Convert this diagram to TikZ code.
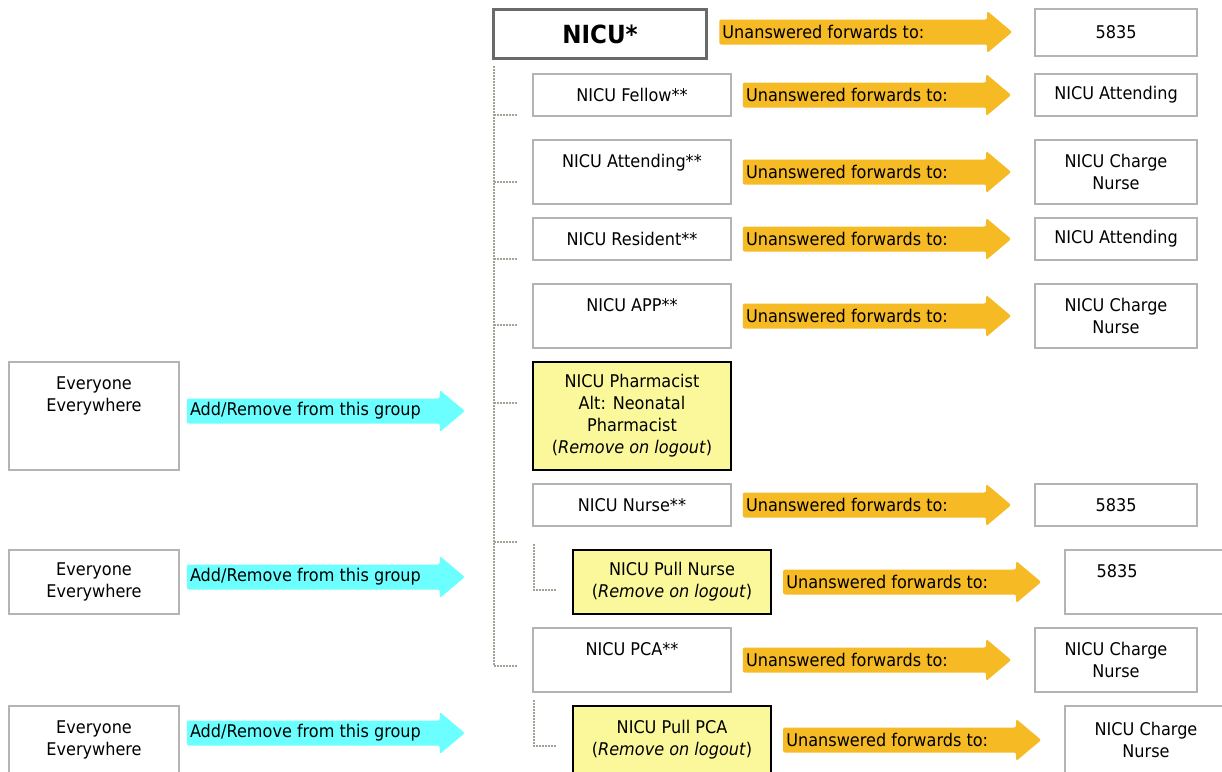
\documentclass[tikz,border=0pt]{standalone}
\usepackage{fontspec}
\setmainfont[FakeStretch=0.92]{DejaVu Sans}
\usetikzlibrary{
	calc,
	positioning
}

\definecolor{fwdorange}{HTML}{F5BA24}
\definecolor{addcyan}{HTML}{6CFFFF}
\definecolor{tempyellow}{HTML}{FAF89A}
\definecolor{boxgray}{HTML}{B4B4B4}
\definecolor{dotgray}{HTML}{A2A296}
\definecolor{headgray}{HTML}{6A6A6A}

\tikzset{
	txt/.style={font=\fontsize{17.5}{22}\selectfont},
	grpbox/.style={txt, draw=boxgray, line width=1.6pt, fill=white, align=center,
		inner sep=0pt, minimum width=198pt, minimum height=42pt},
	tempbox/.style={grpbox, draw=black, line width=2.2pt, fill=tempyellow},
	tgtbox/.style={grpbox, minimum width=162pt},
	allbox/.style={grpbox, minimum width=170pt},
	headbox/.style={draw=headgray, line width=3.5pt, fill=white, inner sep=0pt,
		minimum width=213pt, minimum height=49pt,
		font=\fontsize{25}{30}\selectfont\bfseries},
	arrowtext/.style={txt, anchor=west, inner xsep=3pt, inner ysep=0pt},
	fwdarrow/.style={fill=fwdorange, rounded corners=2pt},
	addarrow/.style={fill=addcyan, rounded corners=2pt},
	orgline/.style={draw=dotgray, line width=2.4pt, dash pattern=on 1.6pt off 1.4pt}
}

% block arrow with its text: style, name, start, tip, text
\newcommand{\blockarrow}[5]{%
	\fill[#1] let \p1=#3, \p2=#4 in
	(\x1,\y1+12.5pt) -- (\x2-25pt,\y1+12.5pt) -- (\x2-25pt,\y1+21pt) -- (\x2,\y1)
	-- (\x2-25pt,\y1-21pt) -- (\x2-25pt,\y1-12.5pt) -- (\x1,\y1-12.5pt) -- cycle;
	\node[arrowtext] (#2) at #3 {#5};%
}

\begin{document}
\begin{tikzpicture}[x=1pt,y=-1pt]
	
	\useasboundingbox (0,0) rectangle (1222,771);
	
	% Group head
	\node[headbox] (nicu) at (600,34) {NICU*};
	\node[tgtbox, minimum height=47pt] (tgtNicu) at (1116,32.5) {5835};
	
	% Members
	\node[grpbox] (fellow) at (632,95) {NICU Fellow**};
	\node[grpbox, minimum height=64pt] (attnd) at (632,172) {NICU Attending**\\~};
	\node[grpbox] (resid) at (632,239) {NICU Resident**};
	\node[grpbox, minimum height=64pt] (app) at (632,316) {NICU APP**\\~};
	\node[tempbox, minimum height=108pt] (pharm) at (632,416)
	{NICU Pharmacist\\Alt: Neonatal\\Pharmacist\\(\textit{Remove on logout})};
	\node[grpbox] (nurse) at (632,505) {NICU Nurse**};
	\node[tempbox, minimum height=64pt] (pullnurse) at (672,582)
	{NICU Pull Nurse\\(\textit{Remove on logout})};
	\node[grpbox, minimum height=64pt] (pca) at (632,660) {NICU PCA**\\~};
	\node[tempbox, minimum height=68pt] (pullpca) at (672,740)
	{NICU Pull PCA\\(\textit{Remove on logout})};
	
	% Forward targets
	\node[tgtbox] (tgtFellow) at (1116,95) {NICU Attending};
	\node[tgtbox, minimum height=64pt] (tgtAttnd) at (1116,172) {NICU Charge\\Nurse};
	\node[tgtbox] (tgtResid) at (1116,239) {NICU Attending};
	\node[tgtbox, minimum height=64pt] (tgtApp) at (1116,316) {NICU Charge\\Nurse};
	\node[tgtbox] (tgtNurse) at (1116,505) {5835};
	\node[tgtbox, minimum height=64pt] (tgtPullNurse) at (1146,582) {5835\hspace*{58pt}\\~};
	\node[tgtbox, minimum height=64pt] (tgtPca) at (1116,660) {NICU Charge\\Nurse};
	\node[tgtbox, minimum height=68pt] (tgtPullPca) at (1146,740) {NICU Charge\\Nurse};
	
	% Everyone boxes
	\node[allbox, minimum height=108pt] (allPharm) at (94,416) {Everyone\\Everywhere\\~\\~};
	\node[allbox, minimum height=64pt] (allPullNurse) at (94,582) {Everyone\\Everywhere};
	\node[allbox, minimum height=68pt] (allPullPca) at (94,740) {Everyone\\Everywhere};
	
	% Org chart lines
	\draw[orgline] ($(nicu.south west)+(2,6)$) coordinate (trunk) |- ($(pca.west)+(-15,6)$);
	\foreach \b/\dy in {fellow/20, attnd/10, resid/20, app/9, pharm/-13, nurse/37}
	\draw[orgline] ($(\b.west)+(-38,\dy)$) -- ++(23,0);
	\draw[orgline] ($(pullnurse.west)+(-38,-38)$) |- ($(pullnurse.west)+(-16,8)$);
	\draw[orgline] ($(pullpca.west)+(-38,-40)$) |- ($(pullpca.west)+(-16,6)$);
	
	% Unanswered forwards
	\blockarrow{fwdarrow}{fwdNicu}{($(nicu.east)+(11,-2)$)}{($(tgtNicu.west)+(-22,0)$)}{Unanswered forwards to:}
	\blockarrow{fwdarrow}{fwdFellow}{($(fellow.east)+(11,0)$)}{($(tgtFellow.west)+(-23,0)$)}{Unanswered forwards to:}
	\blockarrow{fwdarrow}{fwdAttnd}{($(attnd.east)+(11,0)$)}{($(tgtAttnd.west)+(-23,0)$)}{Unanswered forwards to:}
	\blockarrow{fwdarrow}{fwdResid}{($(resid.east)+(11,0)$)}{($(tgtResid.west)+(-23,0)$)}{Unanswered forwards to:}
	\blockarrow{fwdarrow}{fwdApp}{($(app.east)+(11,0)$)}{($(tgtApp.west)+(-23,0)$)}{Unanswered forwards to:}
	\blockarrow{fwdarrow}{fwdNurse}{($(nurse.east)+(11,0)$)}{($(tgtNurse.west)+(-23,0)$)}{Unanswered forwards to:}
	\blockarrow{fwdarrow}{fwdPullNurse}{($(pullnurse.east)+(11,0)$)}{($(tgtPullNurse.west)+(-23,0)$)}{Unanswered forwards to:}
	\blockarrow{fwdarrow}{fwdPca}{($(pca.east)+(11,0)$)}{($(tgtPca.west)+(-23,0)$)}{Unanswered forwards to:}
	\blockarrow{fwdarrow}{fwdPullPca}{($(pullpca.east)+(11,0)$)}{($(tgtPullPca.west)+(-23,0)$)}{Unanswered forwards to:}
	
	% Add/Remove
	\blockarrow{addarrow}{addPharm}{($(allPharm.east)+(7,-5)$)}{($(allPharm.east)+(285,0)$)}{Add/Remove from this group}
	\blockarrow{addarrow}{addPullNurse}{($(allPullNurse.east)+(7,-5)$)}{($(allPullNurse.east)+(285,0)$)}{Add/Remove from this group}
	\blockarrow{addarrow}{addPullPca}{($(allPullPca.east)+(7,-7)$)}{($(allPullPca.east)+(285,0)$)}{Add/Remove from this group}
	
\end{tikzpicture}
\end{document}
